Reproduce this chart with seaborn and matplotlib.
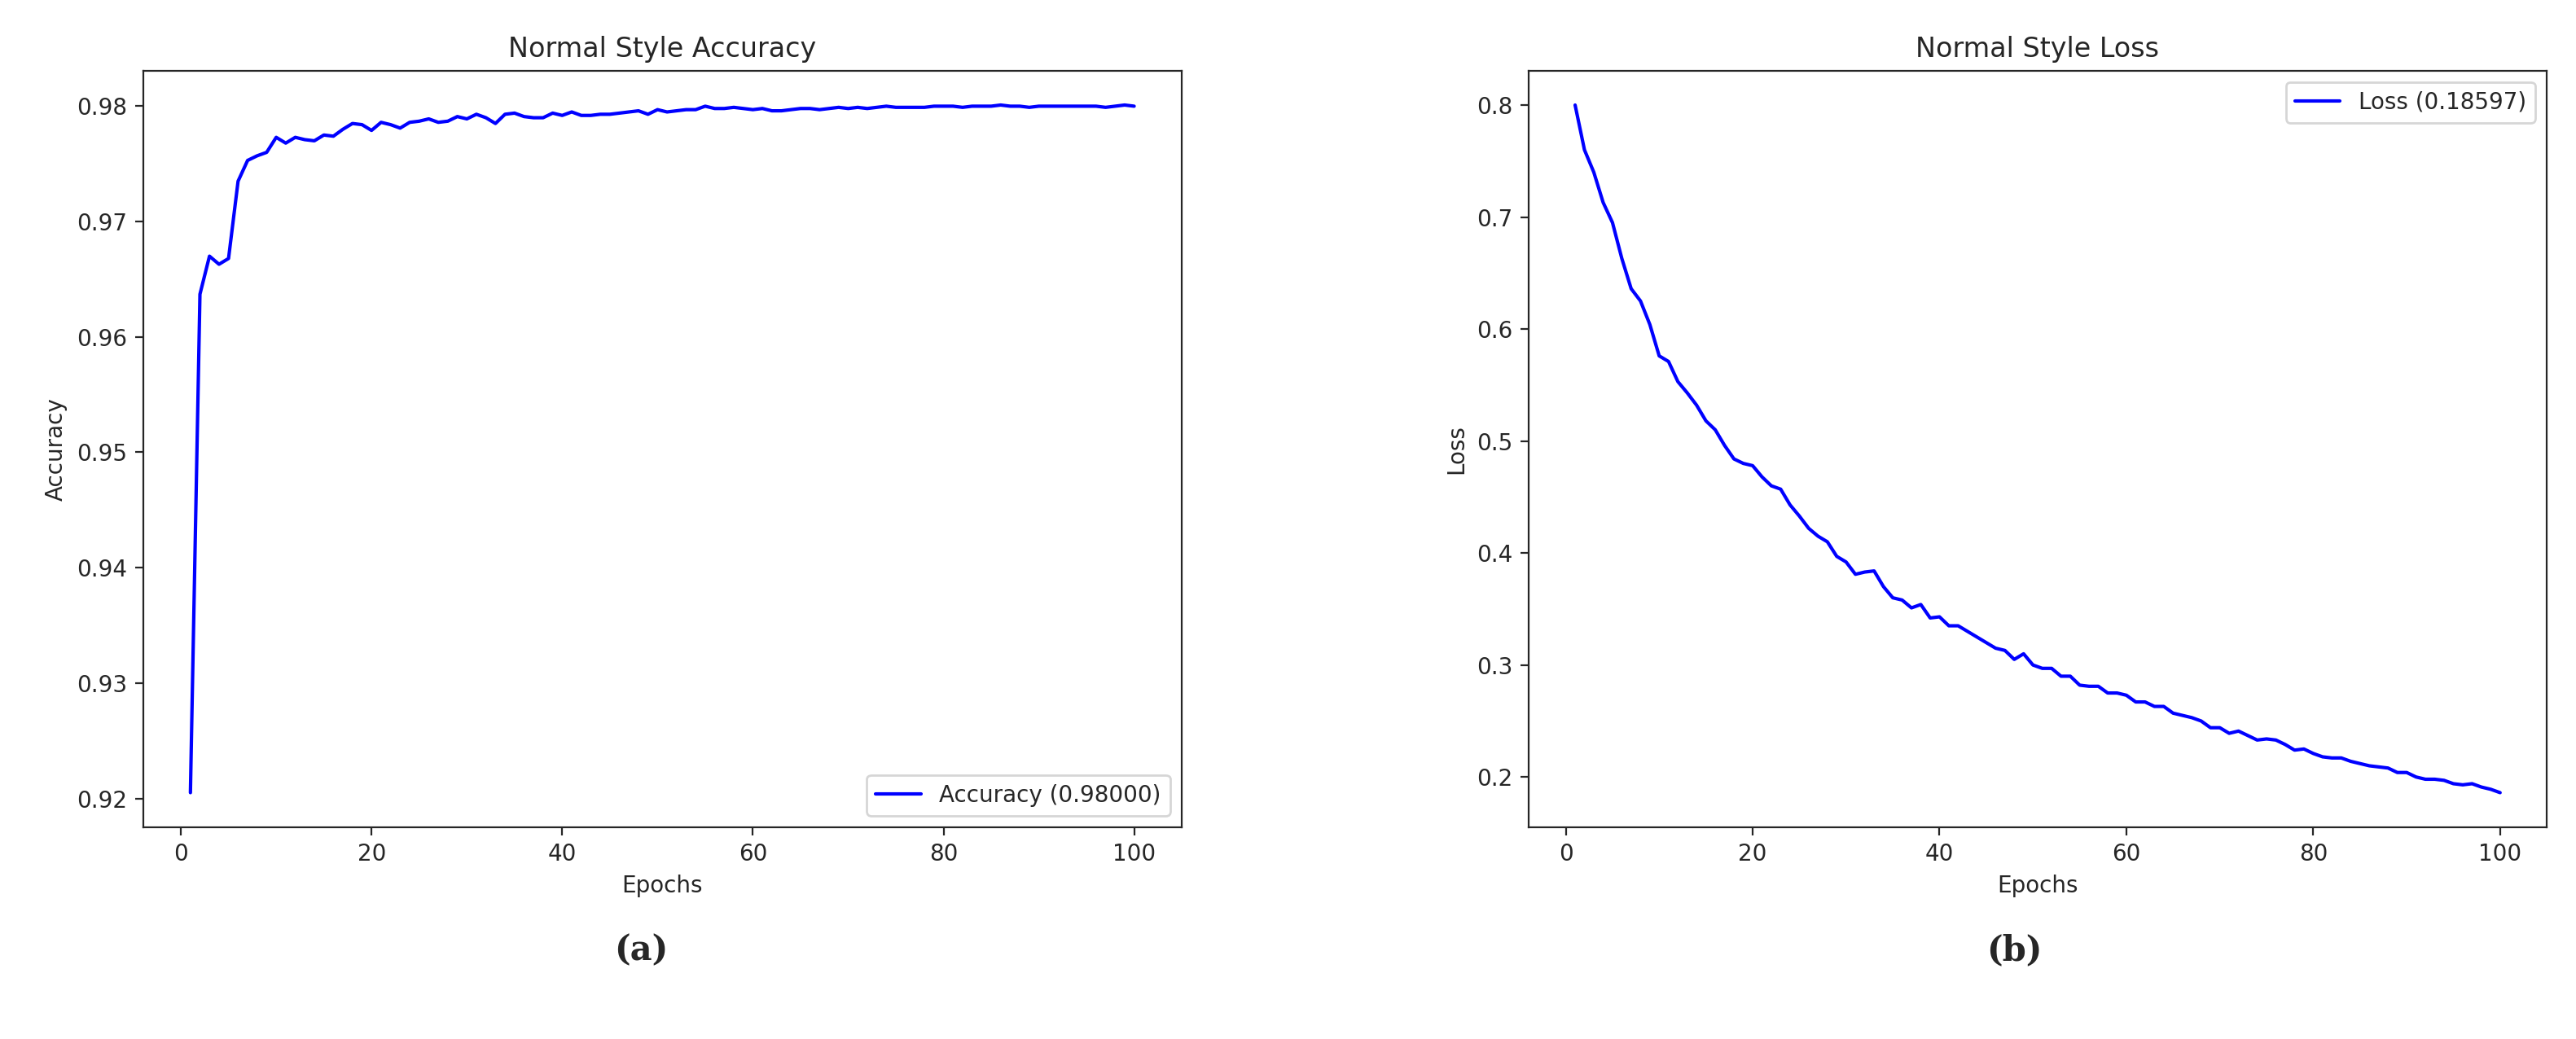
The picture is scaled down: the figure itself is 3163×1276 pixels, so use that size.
from matplotlib import pyplot as plt
import seaborn as sns

epochs = list(range(1, 101))

accuracy = [0.9205, 0.9637, 0.9670, 0.9663, 0.9668, 0.9735, 0.9753, 0.9757, 0.9760, 0.9773,
            0.9768, 0.9773, 0.9771, 0.9770, 0.9775, 0.9774, 0.9780, 0.9785, 0.9784, 0.9779,
            0.9786, 0.9784, 0.9781, 0.9786, 0.9787, 0.9789, 0.9786, 0.9787, 0.9791, 0.9789,
            0.9793, 0.9790, 0.9785, 0.9793, 0.9794, 0.9791, 0.9790, 0.9790, 0.9794, 0.9792,
            0.9795, 0.9792, 0.9792, 0.9793, 0.9793, 0.9794, 0.9795, 0.9796, 0.9793, 0.9797,
            0.9795, 0.9796, 0.9797, 0.9797, 0.9800, 0.9798, 0.9798, 0.9799, 0.9798, 0.9797,
            0.9798, 0.9796, 0.9796, 0.9797, 0.9798, 0.9798, 0.9797, 0.9798, 0.9799, 0.9798,
            0.9799, 0.9798, 0.9799, 0.9800, 0.9799, 0.9799, 0.9799, 0.9799, 0.9800, 0.9800,
            0.9800, 0.9799, 0.9800, 0.9800, 0.9800, 0.9801, 0.9800, 0.9800, 0.9799, 0.9800,
            0.9800, 0.9800, 0.9800, 0.9800, 0.9800, 0.9800, 0.9799, 0.9800, 0.9801, 0.9800]

loss = [0.800, 0.760, 0.740, 0.713, 0.695, 0.663, 0.636, 0.625, 0.604, 0.576,
        0.571, 0.553, 0.543, 0.532, 0.518, 0.510, 0.496, 0.484, 0.480, 0.478,
        0.468, 0.460, 0.457, 0.443, 0.433, 0.422, 0.415, 0.410, 0.397, 0.392,
        0.381, 0.383, 0.384, 0.370, 0.360, 0.358, 0.351, 0.354, 0.342, 0.343,
        0.335, 0.335, 0.330, 0.325, 0.320, 0.315, 0.313, 0.305, 0.310, 0.300,
        0.297, 0.297, 0.290, 0.290, 0.282, 0.281, 0.281, 0.275, 0.275, 0.273,
        0.267, 0.267, 0.263, 0.263, 0.257, 0.255, 0.253, 0.250, 0.244, 0.244,
        0.239, 0.241, 0.237, 0.233, 0.234, 0.233, 0.229, 0.224, 0.225, 0.221,
        0.218, 0.217, 0.217, 0.214, 0.212, 0.210, 0.209, 0.208, 0.204, 0.204,
        0.200, 0.198, 0.198, 0.197, 0.194, 0.193, 0.194, 0.191, 0.189, 0.186]

sns.set_style("ticks")
plt.rcParams['font.family'] = ['DejaVu Sans']

fig = plt.figure(figsize=(15.815, 6.38), dpi=200)
ax_acc = fig.add_axes([0.0556, 0.204, 0.403, 0.728])
ax_loss = fig.add_axes([0.5935, 0.204, 0.395, 0.728])

# accuracy panel
sns.lineplot(ax=ax_acc, x=epochs, y=accuracy, color='blue', linewidth=1.5,
             label='Accuracy (0.98000)')
ax_acc.set_title('Normal Style Accuracy')
ax_acc.set(xlabel='Epochs', ylabel='Accuracy')
ax_acc.legend(loc='lower right')

# loss panel
sns.lineplot(ax=ax_loss, x=epochs, y=loss, color='blue', linewidth=1.5,
             label='Loss (0.18597)')
ax_loss.set_title('Normal Style Loss')
ax_loss.set(xlabel='Epochs', ylabel='Loss')
ax_loss.legend(loc='upper right')

for ax in (ax_acc, ax_loss):
    ax.set_xticks([0, 20, 40, 60, 80, 100])

# sub captions
fig.text(0.249, 0.085, '(a)', ha='center', va='center', fontsize=15,
         fontweight='bold', family='DejaVu Serif')
fig.text(0.782, 0.085, '(b)', ha='center', va='center', fontsize=15,
         fontweight='bold', family='DejaVu Serif')

fig.savefig('out.png', dpi=200)
